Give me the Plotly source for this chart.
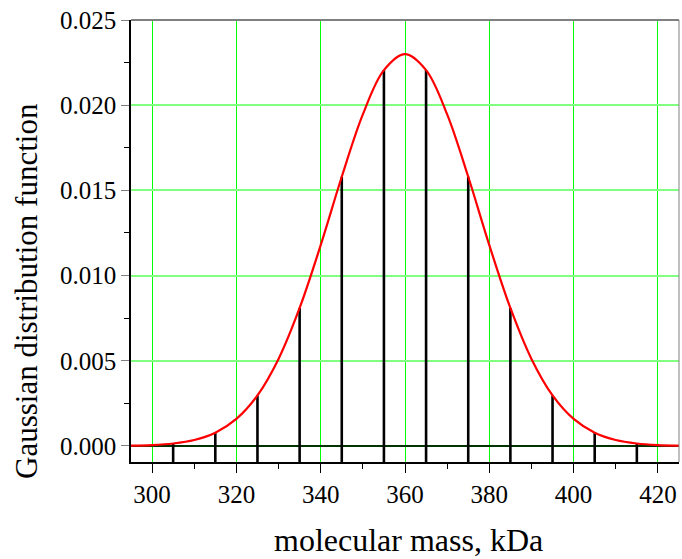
import plotly.graph_objects as go

# Gaussian curve values (kDa, density)
curve_x = [295, 300, 305, 310, 315, 320, 325, 330, 335, 340, 345, 350, 355, 360,
           365, 370, 375, 380, 385, 390, 395, 400, 405, 410, 415, 420, 425]
curve_y = [0.00002, 0.000056, 0.000147, 0.00035, 0.00078, 0.00159, 0.00297, 0.00511,
           0.0081, 0.01179, 0.0158, 0.01946, 0.02206, 0.0230, 0.02206, 0.01946, 0.0158,
           0.01179, 0.0081, 0.00511, 0.00297, 0.00159, 0.00078, 0.00035, 0.000147,
           0.000056, 0.00002]

# Discrete stems
stem_x = [305, 315, 325, 335, 345, 355, 365, 375, 385, 395, 405, 415]
stem_y = [0.000147, 0.00078, 0.00297, 0.0081, 0.0158, 0.02206, 0.02206, 0.0158,
          0.0081, 0.00297, 0.00078, 0.000147]

x_range = [295, 425]
y_range = [-0.00094, 0.025]
x_ticks = [300, 320, 340, 360, 380, 400, 420]
y_ticks = [0.000, 0.005, 0.010, 0.015, 0.020, 0.025]
y_tick_text = ["0.000", "0.005", "0.010", "0.015", "0.020", "0.025"]

sx, sy = [], []
for x, y in zip(stem_x, stem_y):
    sx += [x, x, None]
    sy += [y_range[0] - 0.0002, y, None]

fig = go.Figure()
fig.add_trace(go.Scatter(x=sx, y=sy, mode="lines", line=dict(color="black", width=2.6),
                         hoverinfo="skip", showlegend=False, cliponaxis=False))
fig.add_trace(go.Scatter(x=curve_x, y=curve_y, mode="lines",
                         line=dict(color="red", width=2.2, shape="spline", smoothing=1.0),
                         showlegend=False))

font = "Liberation Serif, Times New Roman, serif"
fig.update_layout(
    width=682, height=559,
    margin=dict(l=131, r=3, t=20, b=97),
    paper_bgcolor="white", plot_bgcolor="white",
    font=dict(family=font, color="black"),
    xaxis=dict(range=x_range, tickvals=x_ticks, ticks="outside", ticklen=9, tickcolor="black",
               tickfont=dict(family=font, size=25, color="black"), showgrid=True,
               gridcolor="#00ff00", gridwidth=1.3,
               showline=True, linecolor="black", linewidth=1.5, zeroline=False,
               minor=dict(tickvals=[310, 330, 350, 370, 390, 410], ticks="outside", ticklen=5,
                          tickcolor="black", showgrid=False)),
    yaxis=dict(range=y_range, tickvals=y_ticks, ticktext=y_tick_text, ticks="outside",
               ticklen=8, tickcolor="gray", tickfont=dict(family=font, size=25, color="black"),
               showgrid=True, gridcolor="#80ff80", gridwidth=1.5, showline=True,
               linecolor="black", linewidth=1.5, zeroline=True, zerolinecolor="#003300",
               zerolinewidth=1.5,
               minor=dict(tickvals=[0.0025, 0.0075, 0.0125, 0.0175, 0.0225], ticks="outside",
                          ticklen=5, tickcolor="black", showgrid=False)),
    annotations=[
        dict(text="molecular mass, kDa", xref="paper", yref="paper", x=(408 - 131) / 548,
             y=-(540 - 462) / 442, xanchor="center", yanchor="middle", showarrow=False,
             font=dict(family=font, size=32, color="black")),
        dict(text="Gaussian distribution function", xref="paper", yref="paper",
             x=-(131 - 26) / 548, y=(462 - 291) / 442, xanchor="center", yanchor="middle",
             textangle=-90, showarrow=False, font=dict(family=font, size=31, color="black")),
    ],
    shapes=[
        dict(type="line", xref="paper", yref="paper", x0=0, x1=1, y0=1, y1=1,
             line=dict(color="gray", width=2)),
        dict(type="line", xref="paper", yref="paper", x0=1, x1=1, y0=0, y1=1,
             line=dict(color="gray", width=1)),
    ],
)

fig.write_html("out.html")
